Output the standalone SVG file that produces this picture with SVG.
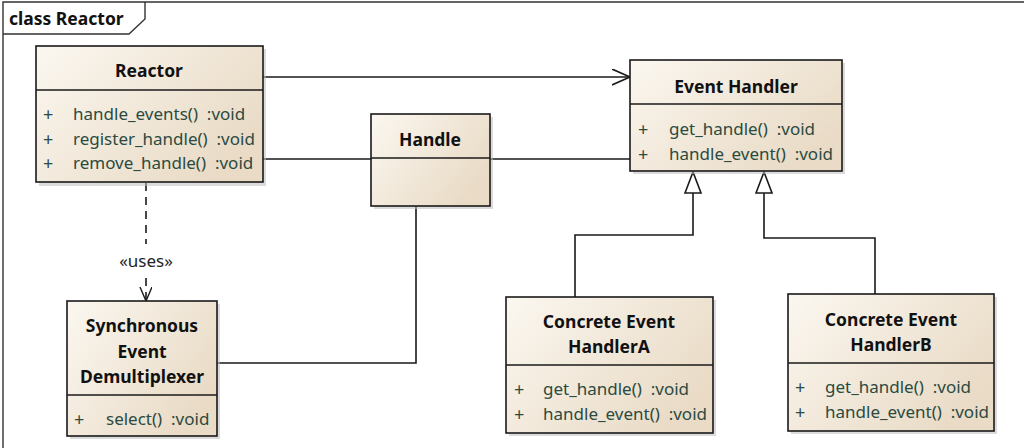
<svg xmlns="http://www.w3.org/2000/svg" width="1024" height="448" viewBox="0 0 1024 448">
<style>
.box{fill:url(#bg);stroke:#1a1a1a;stroke-width:1.6}
.shadow{fill:#bdbdbd;opacity:0.55}
.div{stroke:#1a1a1a;stroke-width:1.6}
.t{font-family:"Noto Sans","Open Sans",sans-serif;font-weight:bold;font-size:17.5px;fill:#111;text-anchor:middle}
.op{font-family:"Noto Sans","Open Sans",sans-serif;font-size:17px;fill:#2b4a40}
.pl{font-family:"Noto Sans","Open Sans",sans-serif;font-size:18px;fill:#2b4a40}
.ln{fill:none;stroke:#1a1a1a;stroke-width:1.6}
.frame{fill:none;stroke:#333;stroke-width:1.4}
</style>
<defs>
<linearGradient id="bg" x1="0" y1="0" x2="1" y2="0.6">
<stop offset="0" stop-color="#fbf7f0"/>
<stop offset="1" stop-color="#e9dbc6"/>
</linearGradient>
<marker id="open" markerWidth="20" markerHeight="20" refX="18" refY="8" orient="auto" markerUnits="userSpaceOnUse">
<path d="M0,0 L18,8 L0,16" fill="none" stroke="#1a1a1a" stroke-width="1.6"/>
</marker>
<marker id="openS" markerWidth="16" markerHeight="20" refX="14" refY="6" orient="auto" markerUnits="userSpaceOnUse">
<path d="M0,0 L14,6 L0,12" fill="none" stroke="#1a1a1a" stroke-width="1.4"/>
</marker>
<marker id="tri" markerWidth="24" markerHeight="24" refX="22" refY="9" orient="auto" markerUnits="userSpaceOnUse">
<path d="M1,1 L22,9 L1,17 Z" fill="#ffffff" stroke="#1a1a1a" stroke-width="1.6"/>
</marker>
</defs>
<rect width="1024" height="448" fill="#ffffff"/>
<g id="frame">
<path class="frame" d="M3,448 L3,2 L1024,2"/>
<path class="frame" d="M3,34 L129,34 L145,19 L145,2"/>
<text x="9" y="25" font-family="'Noto Sans','Open Sans',sans-serif" font-weight="bold" font-size="17.5" fill="#111">class Reactor</text>
</g>
<g id="connectors">
<line class="ln" x1="263" y1="77" x2="630" y2="77" marker-end="url(#open)"/>
<line class="ln" x1="263" y1="159" x2="371" y2="159"/>
<line class="ln" x1="490" y1="159" x2="630" y2="159"/>
<polyline class="ln" points="416,206 416,363 217,363"/>
<line class="ln" x1="146" y1="183" x2="146" y2="244" stroke-dasharray="8,6"/>
<line class="ln" x1="146" y1="278" x2="146" y2="301" stroke-dasharray="8,6" marker-end="url(#openS)"/>
<text x="146" y="267" text-anchor="middle" font-family="'Noto Sans','Open Sans',sans-serif" font-size="17" fill="#222">«uses»</text>
<polyline class="ln" points="575,297 575,235 693,235 693,172" marker-end="url(#tri)"/>
<polyline class="ln" points="875,294 875,238 764,238 764,172" marker-end="url(#tri)"/>
</g>
<g id="reactor">
<rect class="shadow" x="39" y="49" width="227" height="137"/>
<rect class="box" x="36" y="46" width="227" height="136"/>
<line class="div" x1="36" y1="90" x2="263" y2="90"/>
<text class="t" x="149" y="77">Reactor</text>
<text class="pl" x="43" y="121">+</text><text class="op" x="73" y="120" xml:space="preserve">handle_events()  :void</text>
<text class="pl" x="43" y="146">+</text><text class="op" x="73" y="145" xml:space="preserve">register_handle()  :void</text>
<text class="pl" x="43" y="170">+</text><text class="op" x="73" y="169" xml:space="preserve">remove_handle()  :void</text>
</g>
<g id="handle">
<rect class="shadow" x="374" y="117" width="119" height="92"/>
<rect class="box" x="371" y="114" width="119" height="92"/>
<line class="div" x1="371" y1="158" x2="490" y2="158"/>
<text class="t" x="430" y="146">Handle</text>
</g>
<g id="eventhandler">
<rect class="shadow" x="633" y="63" width="212" height="111"/>
<rect class="box" x="630" y="60" width="212" height="111"/>
<line class="div" x1="630" y1="104" x2="842" y2="104"/>
<text class="t" x="736" y="93">Event Handler</text>
<text class="pl" x="638" y="136">+</text><text class="op" x="669" y="135" xml:space="preserve">get_handle()  :void</text>
<text class="pl" x="638" y="161">+</text><text class="op" x="669" y="160" xml:space="preserve">handle_event()  :void</text>
</g>
<g id="demux">
<rect class="shadow" x="70" y="304" width="150" height="135"/>
<rect class="box" x="67" y="301" width="150" height="135"/>
<line class="div" x1="67" y1="395" x2="217" y2="395"/>
<text class="t" x="142" y="332">Synchronous</text>
<text class="t" x="142" y="358">Event</text>
<text class="t" x="142" y="383">Demultiplexer</text>
<text class="pl" x="74" y="426">+</text><text class="op" x="106" y="425" xml:space="preserve">select()  :void</text>
</g>
<g id="handlerA">
<rect class="shadow" x="509" y="300" width="207" height="136"/>
<rect class="box" x="506" y="297" width="207" height="136"/>
<line class="div" x1="506" y1="365" x2="713" y2="365"/>
<text class="t" x="609" y="328">Concrete Event</text>
<text class="t" x="609" y="353">HandlerA</text>
<text class="pl" x="514" y="396">+</text><text class="op" x="543" y="395" xml:space="preserve">get_handle()  :void</text>
<text class="pl" x="514" y="421">+</text><text class="op" x="543" y="420" xml:space="preserve">handle_event()  :void</text>
</g>
<g id="handlerB">
<rect class="shadow" x="791" y="297" width="206" height="137"/>
<rect class="box" x="788" y="294" width="206" height="137"/>
<line class="div" x1="788" y1="363" x2="994" y2="363"/>
<text class="t" x="891" y="326">Concrete Event</text>
<text class="t" x="891" y="351">HandlerB</text>
<text class="pl" x="795" y="394">+</text><text class="op" x="825" y="393" xml:space="preserve">get_handle()  :void</text>
<text class="pl" x="795" y="419">+</text><text class="op" x="825" y="418" xml:space="preserve">handle_event()  :void</text>
</g>
</svg>
